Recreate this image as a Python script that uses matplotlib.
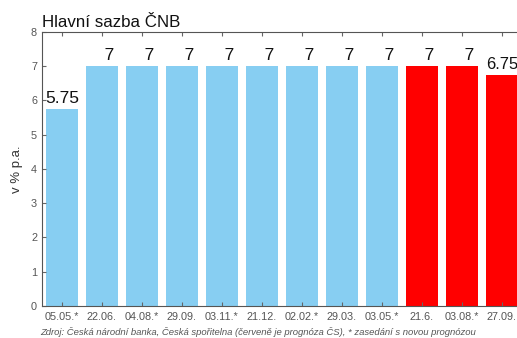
import matplotlib.pyplot as plt

# data
dates = ['05.05.*', '22.06.', '04.08.*', '29.09.', '03.11.*', '21.12.',
         '02.02.*', '29.03.', '03.05.*', '21.6.', '03.08.*', '27.09.']
rates = [5.75, 7, 7, 7, 7, 7, 7, 7, 7, 7, 7, 6.75]
forecast = [False] * 9 + [True] * 3
labels = ['5.75', '   7', '   7', '   7', '   7', '   7', '   7', '   7', '   7',
          '   7', '   7', '6.75']

plt.rcParams['font.family'] = ['Liberation Sans', 'DejaVu Sans']

fig = plt.figure(figsize=(5.17, 3.38), dpi=100)
ax = fig.add_axes([0.0812, 0.0947, 0.94, 0.8107])

colors = ['#ff0000' if f else '#87cef2' for f in forecast]
x = list(range(len(dates)))
ax.bar(x, rates, width=0.8, color=colors)

for xi, v, lab in zip(x, rates, labels):
    # last label sits at the right edge, keep it inside the picture
    if xi == x[-1]:
        ax.text(xi - 0.4, v + 0.08, lab, ha='left', va='bottom', fontsize=12,
                color='#111111')
    else:
        ax.text(xi, v + 0.08, lab, ha='center', va='bottom', fontsize=12.5,
                color='#111111')

ax.set_xlim(-0.5, len(dates) - 0.35)
ax.set_ylim(0, 8)
ax.set_yticks(range(9))
ax.set_xticks(x)
ax.set_xticklabels(dates)
ax.tick_params(axis='both', direction='in', labelsize=7.8, colors='#666666',
               labelcolor='#555555', length=3, top=True)
ax.tick_params(axis='x', pad=4)
for s in ['left', 'top', 'bottom', 'right']:
    ax.spines[s].set_color('#555555')
    ax.spines[s].set_linewidth(0.8)

ax.set_ylabel('v % p.a.', fontsize=9.5, color='#333333', labelpad=6)
fig.text(0.0812, 0.92, 'Hlavní sazba ČNB', fontsize=12.2, color='#111111',
         ha='left', va='baseline')
fig.text(0.077, 0.003, 'Zdroj: Česká národní banka, Česká spořitelna (červeně je prognóza ČS), '
         '* zasedání s novou prognózou', fontsize=6.8, style='italic', color='#555555',
         ha='left', va='bottom')

fig.savefig('out.png', dpi=100)
